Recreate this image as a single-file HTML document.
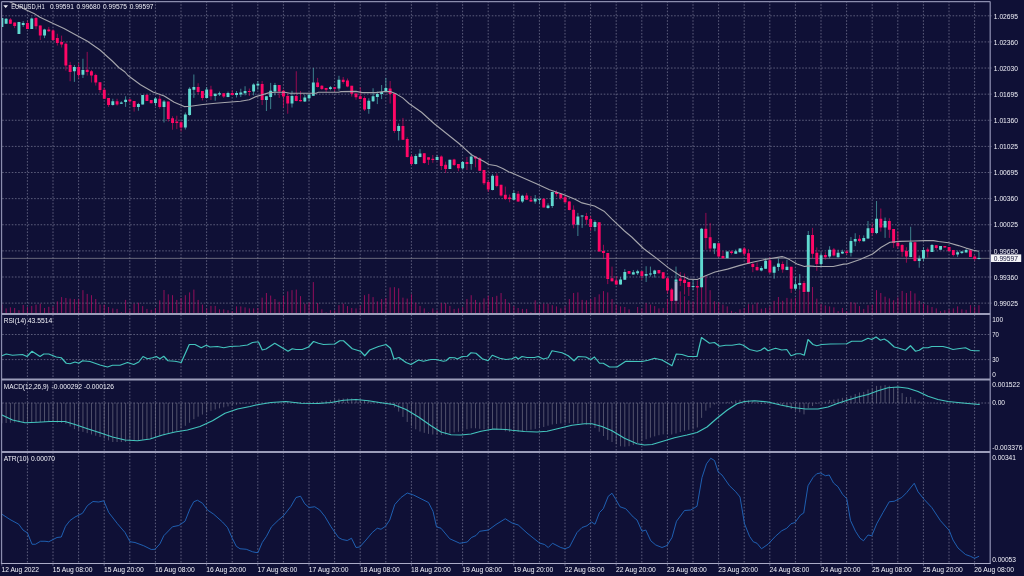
<!DOCTYPE html>
<html><head><meta charset="utf-8"><title>EURUSD,H1</title>
<style>html,body{margin:0;padding:0;background:#0f1036;overflow:hidden}svg{display:block}</style></head>
<body>
<svg width="1024" height="576" viewBox="0 0 1024 576">
<rect width="1024" height="576" fill="#0f1036"/>
<path d="M27.40 1.55V563.45M53.00 1.55V563.45M78.60 1.55V563.45M104.20 1.55V563.45M129.80 1.55V563.45M155.40 1.55V563.45M181.00 1.55V563.45M206.60 1.55V563.45M232.20 1.55V563.45M257.80 1.55V563.45M283.40 1.55V563.45M309.00 1.55V563.45M334.60 1.55V563.45M360.20 1.55V563.45M385.80 1.55V563.45M411.40 1.55V563.45M437.00 1.55V563.45M462.60 1.55V563.45M488.20 1.55V563.45M513.80 1.55V563.45M539.40 1.55V563.45M565.00 1.55V563.45M590.60 1.55V563.45M616.20 1.55V563.45M641.80 1.55V563.45M667.40 1.55V563.45M693.00 1.55V563.45M718.60 1.55V563.45M744.20 1.55V563.45M769.80 1.55V563.45M795.40 1.55V563.45M821.00 1.55V563.45M846.60 1.55V563.45M872.20 1.55V563.45M897.80 1.55V563.45M923.40 1.55V563.45M949.00 1.55V563.45M974.60 1.55V563.45" stroke="#8587a0" stroke-width="0.65" stroke-dasharray="1.6 1.6" stroke-dashoffset="0.55" fill="none"/>
<path d="M1.55 15.80H990.2M1.55 41.92H990.2M1.55 68.04H990.2M1.55 94.16H990.2M1.55 120.28H990.2M1.55 146.40H990.2M1.55 172.52H990.2M1.55 198.64H990.2M1.55 224.76H990.2M1.55 250.88H990.2M1.55 277.00H990.2M1.55 303.12H990.2M1.55 334.50H990.2M1.55 359.60H990.2M1.55 403.00H990.2" stroke="#8587a0" stroke-width="0.65" stroke-dasharray="1.6 1.6" stroke-dashoffset="2.6" fill="none"/>
<clipPath id="mc"><rect x="1.55" y="1.55" width="988.6500000000001" height="312.5"/></clipPath>
<path d="M1.87 304.60V313.4M6.14 308.40V313.4M10.40 307.40V313.4M14.67 308.00V313.4M18.94 310.20V313.4M23.20 305.00V313.4M27.47 307.00V313.4M31.74 305.90V313.4M36.00 304.60V313.4M40.27 303.65V313.4M44.54 308.00V313.4M48.80 306.80V313.4M53.07 306.40V313.4M57.34 301.40V313.4M61.60 297.10V313.4M65.87 298.00V313.4M70.14 298.60V313.4M74.40 299.00V313.4M78.67 299.00V313.4M82.94 290.15V313.4M87.20 293.90V313.4M91.47 295.20V313.4M95.74 299.00V313.4M100.00 304.60V313.4M104.27 304.60V313.4M108.54 307.00V313.4M112.80 308.40V313.4M117.07 308.90V313.4M121.34 312.10V313.4M125.60 299.90V313.4M129.87 309.30V313.4M134.14 303.65V313.4M138.40 302.70V313.4M142.67 306.10V313.4M146.94 308.90V313.4M151.20 309.80V313.4M155.47 308.00V313.4M159.74 300.30V313.4M164.00 290.00V313.4M168.27 294.30V313.4M172.54 295.20V313.4M176.80 299.90V313.4M181.07 298.00V313.4M185.34 295.20V313.4M189.60 292.40V313.4M193.87 289.60V313.4M198.14 299.90V313.4M202.40 304.60V313.4M206.67 308.40V313.4M210.94 305.90V313.4M215.21 305.90V313.4M219.47 309.30V313.4M223.74 309.30V313.4M228.01 310.20V313.4M232.27 311.15V313.4M236.54 306.40V313.4M240.81 306.40V313.4M245.07 307.40V313.4M249.34 308.40V313.4M253.61 308.40V313.4M257.87 308.00V313.4M262.14 297.65V313.4M266.41 293.00V313.4M270.67 295.60V313.4M274.94 299.00V313.4M279.21 301.80V313.4M283.47 295.80V313.4M287.74 291.40V313.4M292.01 290.15V313.4M296.27 289.60V313.4M300.54 296.15V313.4M304.81 303.65V313.4M309.07 302.40V313.4M313.34 282.10V313.4M317.61 303.10V313.4M321.87 309.30V313.4M326.14 312.40V313.4M330.41 310.20V313.4M334.67 310.20V313.4M338.94 305.15V313.4M343.21 303.65V313.4M347.47 306.10V313.4M351.74 308.00V313.4M356.01 308.40V313.4M360.27 305.50V313.4M364.54 295.20V313.4M368.81 293.90V313.4M373.07 297.10V313.4M377.34 301.40V313.4M381.61 299.00V313.4M385.87 298.00V313.4M390.14 287.40V313.4M394.41 287.15V313.4M398.67 288.30V313.4M402.94 297.65V313.4M407.21 298.60V313.4M411.47 294.30V313.4M415.74 302.70V313.4M420.01 305.90V313.4M424.27 308.40V313.4M428.54 312.40V313.4M432.81 308.40V313.4M437.07 310.20V313.4M441.34 303.10V313.4M445.61 303.10V313.4M449.87 305.90V313.4M454.14 308.90V313.4M458.41 308.40V313.4M462.67 307.00V313.4M466.94 299.00V313.4M471.21 295.20V313.4M475.47 299.90V313.4M479.74 302.70V313.4M484.01 298.40V313.4M488.27 295.80V313.4M492.54 297.10V313.4M496.81 295.80V313.4M501.07 293.00V313.4M505.34 299.00V313.4M509.61 303.10V313.4M513.87 306.10V313.4M518.14 308.00V313.4M522.41 308.90V313.4M526.67 308.90V313.4M530.94 312.10V313.4M535.21 300.30V313.4M539.47 304.60V313.4M543.74 303.65V313.4M548.01 303.65V313.4M552.27 305.15V313.4M556.54 306.40V313.4M560.81 308.40V313.4M565.07 306.40V313.4M569.34 299.00V313.4M573.61 293.00V313.4M577.87 292.40V313.4M582.14 299.90V313.4M586.41 300.30V313.4M590.67 299.00V313.4M594.94 297.10V313.4M599.21 294.30V313.4M603.47 291.10V313.4M607.74 292.40V313.4M612.01 299.00V313.4M616.27 304.60V313.4M620.54 306.40V313.4M624.81 307.00V313.4M629.07 309.30V313.4M633.34 313.00V313.4M637.61 307.00V313.4M641.88 308.40V313.4M646.14 303.10V313.4M650.41 304.60V313.4M654.68 306.10V313.4M658.94 308.40V313.4M663.21 308.00V313.4M667.48 299.00V313.4M671.74 298.40V313.4M676.01 293.40V313.4M680.28 291.40V313.4M684.54 296.15V313.4M688.81 300.40V313.4M693.08 301.40V313.4M697.34 296.15V313.4M701.61 280.40V313.4M705.88 275.90V313.4M710.14 290.15V313.4M714.41 301.20V313.4M718.68 302.40V313.4M722.94 304.60V313.4M727.21 306.40V313.4M731.48 310.80V313.4M735.74 312.10V313.4M740.01 309.30V313.4M744.28 308.00V313.4M748.54 304.20V313.4M752.81 304.60V313.4M757.08 302.70V313.4M761.34 308.70V313.4M765.61 308.00V313.4M769.88 306.40V313.4M774.14 300.80V313.4M778.41 297.00V313.4M782.68 300.80V313.4M786.94 297.90V313.4M791.21 298.65V313.4M795.48 297.65V313.4M799.74 290.15V313.4M804.01 292.40V313.4M808.28 279.40V313.4M812.54 287.00V313.4M816.81 298.65V313.4M821.08 303.90V313.4M825.34 305.40V313.4M829.61 306.40V313.4M833.88 307.40V313.4M838.14 311.15V313.4M842.41 308.00V313.4M846.68 311.15V313.4M850.94 302.15V313.4M855.21 302.70V313.4M859.48 306.10V313.4M863.74 308.90V313.4M868.01 305.15V313.4M872.28 304.60V313.4M876.54 290.15V313.4M880.81 293.00V313.4M885.08 296.70V313.4M889.34 298.40V313.4M893.61 300.30V313.4M897.88 297.40V313.4M902.14 290.90V313.4M906.41 293.00V313.4M910.68 290.90V313.4M914.94 293.40V313.4M919.21 300.80V313.4M923.48 303.65V313.4M927.74 305.15V313.4M932.01 307.00V313.4M936.28 308.40V313.4M940.54 311.15V313.4M944.81 310.20V313.4M949.08 309.30V313.4M953.34 308.40V313.4M957.61 306.40V313.4M961.88 309.30V313.4M966.14 309.80V313.4M970.41 305.15V313.4M974.68 307.00V313.4M978.94 305.15V313.4" stroke="#aa0e62" stroke-width="0.85" fill="none"/>
<path d="M1.55 258.35H990.2" stroke="#8e8e98" stroke-width="0.7"/>
<g clip-path="url(#mc)">
<path d="M1.87 18.10V26.90M6.14 18.00V24.00M18.94 21.90V34.00M23.20 21.00V26.90M31.74 17.50V29.00M44.54 28.75V38.10M74.40 65.00V81.90M82.94 58.75V78.00M112.80 98.75V105.60M121.34 101.25V104.00M125.60 96.25V106.90M138.40 102.90V110.75M142.67 95.00V104.50M155.47 97.25V106.00M164.00 100.00V122.50M185.34 112.50V129.50M189.60 87.25V115.75M193.87 74.50V97.90M206.67 87.00V98.25M215.21 93.50V100.75M219.47 91.60V96.00M228.01 91.60V97.25M236.54 91.00V97.50M240.81 88.75V97.00M245.07 86.25V95.40M253.61 83.25V95.40M257.87 81.00V89.75M266.41 96.25V111.00M270.67 82.90V109.10M274.94 82.90V95.40M292.01 90.75V107.50M304.81 94.50V102.00M309.07 93.50V101.00M313.34 67.90V96.00M330.41 86.00V90.40M338.94 75.75V90.75M368.81 98.25V113.75M373.07 88.25V102.00M377.34 91.60V104.10M381.61 85.00V99.10M385.87 77.90V92.25M398.67 123.50V140.40M415.74 154.10V164.50M420.01 149.10V157.25M437.07 155.00V160.40M449.87 159.75V169.10M462.67 161.00V169.75M471.21 153.50V169.75M492.54 174.10V190.40M513.87 190.40V200.00M522.41 194.75V202.90M535.21 195.00V203.75M539.47 198.75V204.10M548.01 203.25V208.75M552.27 191.60V207.90M577.87 212.90V236.00M582.14 215.40V227.90M594.94 220.40V231.25M620.54 277.00V284.75M624.81 269.10V280.00M633.34 270.00V274.50M637.61 269.75V275.00M646.14 266.25V282.00M650.41 266.60V276.60M654.68 269.75V277.50M676.01 266.60V281.50M693.08 279.75V290.00M701.61 227.90V287.25M714.41 243.25V254.10M727.21 251.60V258.25M735.74 249.50V253.75M740.01 248.25V252.25M761.34 266.00V271.40M765.61 258.40V269.00M774.14 265.50V278.75M778.41 258.60V270.90M786.94 259.70V270.25M795.48 276.75V290.50M799.74 274.00V289.60M808.28 231.00V291.75M821.08 252.20V267.10M829.61 246.25V258.30M838.14 249.70V257.50M842.41 249.70V254.00M850.94 237.00V256.50M855.21 233.25V246.10M863.74 235.40V241.50M868.01 221.00V239.10M876.54 201.00V234.10M885.08 217.50V237.90M910.68 226.75V257.25M919.21 255.50V267.75M923.48 247.10V261.10M932.01 244.00V251.90M940.54 246.00V249.75M957.61 250.60V256.90M961.88 251.00V254.00M966.14 249.00V252.50M978.94 251.90V259.40" stroke="#60dad1" stroke-width="0.75" stroke-opacity="0.75" fill="none"/>
<path d="M10.40 18.10V23.75M14.67 22.50V28.10M27.47 20.60V29.00M36.00 16.90V29.40M40.27 25.60V40.00M48.80 26.90V31.90M53.07 29.40V40.60M57.34 33.75V45.60M61.60 35.60V47.50M65.87 42.50V70.60M70.14 61.90V81.25M78.67 63.00V78.75M87.20 51.90V75.60M91.47 70.00V82.50M95.74 73.75V85.60M100.00 82.25V92.75M104.27 88.00V98.75M108.54 98.00V106.90M117.07 98.75V105.60M129.87 98.75V102.90M134.14 101.00V111.60M146.94 94.75V101.00M151.20 100.00V103.25M159.74 95.40V108.75M168.27 101.60V121.60M172.54 116.25V129.75M176.80 115.75V129.10M181.07 121.00V131.60M198.14 83.25V94.10M202.40 91.00V100.40M210.94 85.75V100.00M223.74 93.25V97.90M232.27 90.00V95.40M249.34 88.50V96.00M262.14 81.00V105.00M279.21 85.00V97.90M283.47 89.75V107.50M287.74 93.50V113.75M296.27 71.25V101.25M300.54 91.00V101.60M317.61 77.90V87.50M321.87 85.00V90.00M326.14 87.90V92.00M334.67 87.25V91.60M343.21 77.00V83.75M347.47 78.50V87.25M351.74 85.75V96.60M356.01 93.50V99.75M360.27 87.25V99.50M364.54 96.25V111.00M390.14 81.00V103.50M394.41 93.50V132.90M402.94 117.90V140.00M407.21 137.25V157.50M411.47 154.10V165.40M424.27 153.25V163.75M428.54 157.25V165.00M432.81 155.00V162.90M441.34 155.40V170.00M445.61 161.60V172.90M454.14 158.75V166.00M458.41 164.10V171.25M466.94 157.00V170.00M475.47 156.60V167.25M479.74 157.25V170.75M484.01 170.00V185.00M488.27 179.75V192.00M496.81 173.25V187.25M501.07 184.75V196.60M505.34 186.60V200.00M509.61 194.50V202.25M518.14 191.00V202.00M526.67 192.90V200.00M530.94 196.00V202.00M543.74 198.75V207.50M556.54 190.40V196.60M560.81 193.25V199.75M565.07 196.00V202.90M569.34 201.00V210.40M573.61 205.40V228.25M586.41 212.90V224.75M590.67 216.00V231.00M599.21 222.25V251.60M603.47 244.75V259.10M607.74 252.90V284.10M612.01 266.60V281.60M616.27 276.00V285.00M629.07 271.00V273.75M641.88 271.25V279.75M658.94 270.00V274.10M663.21 272.25V278.50M667.48 277.00V293.75M671.74 287.90V301.00M680.28 272.00V286.00M684.54 273.50V294.50M688.81 282.00V296.00M697.34 280.40V296.00M705.88 212.90V249.75M710.14 222.90V251.60M718.68 243.25V257.25M722.94 251.00V258.50M731.48 250.40V254.50M744.28 247.25V256.00M748.54 249.10V263.50M752.81 262.25V272.20M757.08 262.50V270.75M769.88 257.10V273.00M782.68 261.50V272.75M791.21 266.75V293.00M804.01 280.90V292.10M812.54 227.90V258.60M816.81 247.40V270.90M825.34 252.20V259.70M833.88 248.00V256.50M846.68 249.70V254.90M859.48 235.00V242.50M872.28 223.50V235.75M880.81 208.50V231.60M889.34 218.25V237.90M893.61 229.10V247.90M897.88 231.40V248.90M902.14 244.10V256.75M906.41 247.25V262.70M914.94 242.25V261.50M927.74 247.50V257.50M936.28 245.25V249.75M944.81 246.00V247.50M949.08 246.90V252.25M953.34 250.00V256.50M970.41 250.25V256.90M974.68 255.25V260.60" stroke="#ff0766" stroke-width="0.75" stroke-opacity="0.75" fill="none"/>
<path d="M0.42 18.10h2.9V26.90h-2.9zM4.69 18.75h2.9V23.75h-2.9zM17.49 21.90h2.9V34.00h-2.9zM21.75 23.10h2.9V25.00h-2.9zM30.29 18.50h2.9V29.00h-2.9zM43.09 29.40h2.9V35.60h-2.9zM72.95 66.90h2.9V71.25h-2.9zM81.49 70.00h2.9V74.75h-2.9zM111.35 101.25h2.9V105.00h-2.9zM119.89 102.50h2.9V103.75h-2.9zM124.15 99.75h2.9V101.90h-2.9zM136.95 104.10h2.9V107.00h-2.9zM141.22 95.00h2.9V104.50h-2.9zM154.02 98.50h2.9V102.90h-2.9zM162.55 101.60h2.9V107.00h-2.9zM183.89 114.50h2.9V127.50h-2.9zM188.15 88.75h2.9V115.00h-2.9zM192.42 87.00h2.9V89.75h-2.9zM205.22 89.50h2.9V97.90h-2.9zM213.76 93.75h2.9V96.00h-2.9zM218.02 93.25h2.9V94.50h-2.9zM226.56 92.90h2.9V97.00h-2.9zM235.09 92.90h2.9V95.00h-2.9zM239.36 92.50h2.9V94.50h-2.9zM243.62 91.00h2.9V93.25h-2.9zM252.16 84.50h2.9V91.60h-2.9zM256.42 83.75h2.9V85.40h-2.9zM264.96 96.25h2.9V100.00h-2.9zM269.22 90.75h2.9V97.00h-2.9zM273.49 85.00h2.9V91.60h-2.9zM290.56 96.00h2.9V103.50h-2.9zM303.36 97.50h2.9V101.60h-2.9zM307.62 94.75h2.9V98.25h-2.9zM311.89 82.50h2.9V95.75h-2.9zM328.96 87.25h2.9V89.10h-2.9zM337.49 79.75h2.9V88.50h-2.9zM367.36 100.75h2.9V109.10h-2.9zM371.62 96.25h2.9V101.25h-2.9zM375.89 94.10h2.9V97.00h-2.9zM380.16 92.00h2.9V94.10h-2.9zM384.42 87.90h2.9V91.00h-2.9zM397.22 126.00h2.9V131.00h-2.9zM414.29 156.00h2.9V164.10h-2.9zM418.56 153.50h2.9V157.00h-2.9zM435.62 157.00h2.9V160.00h-2.9zM448.42 159.75h2.9V169.10h-2.9zM461.22 162.00h2.9V168.25h-2.9zM469.76 156.60h2.9V164.10h-2.9zM491.09 175.75h2.9V190.00h-2.9zM512.42 192.90h2.9V199.75h-2.9zM520.96 195.75h2.9V201.60h-2.9zM533.76 198.75h2.9V201.60h-2.9zM538.02 198.75h2.9V199.75h-2.9zM546.56 205.40h2.9V207.90h-2.9zM550.82 192.00h2.9V206.00h-2.9zM576.42 216.60h2.9V224.75h-2.9zM580.69 215.40h2.9V216.60h-2.9zM593.49 222.00h2.9V227.00h-2.9zM619.09 279.50h2.9V284.50h-2.9zM623.36 272.00h2.9V279.75h-2.9zM631.89 272.25h2.9V274.50h-2.9zM636.16 271.25h2.9V273.25h-2.9zM644.69 274.10h2.9V275.75h-2.9zM648.96 273.50h2.9V274.50h-2.9zM653.23 270.40h2.9V274.10h-2.9zM674.56 279.50h2.9V281.70h-2.9zM691.63 285.90h2.9V287.00h-2.9zM700.16 228.75h2.9V287.25h-2.9zM712.96 243.25h2.9V248.50h-2.9zM725.76 251.60h2.9V258.25h-2.9zM734.29 251.25h2.9V253.75h-2.9zM738.56 248.40h2.9V252.25h-2.9zM759.89 268.00h2.9V270.40h-2.9zM764.16 260.80h2.9V268.75h-2.9zM772.69 266.75h2.9V272.75h-2.9zM776.96 263.40h2.9V267.10h-2.9zM785.49 266.75h2.9V270.00h-2.9zM794.03 284.25h2.9V288.75h-2.9zM798.29 283.00h2.9V285.00h-2.9zM806.83 235.00h2.9V291.75h-2.9zM819.63 255.30h2.9V264.00h-2.9zM828.16 249.70h2.9V256.50h-2.9zM836.69 252.80h2.9V257.20h-2.9zM840.96 251.70h2.9V253.45h-2.9zM849.49 241.00h2.9V252.80h-2.9zM853.76 239.10h2.9V241.60h-2.9zM862.29 237.90h2.9V241.25h-2.9zM866.56 228.25h2.9V238.50h-2.9zM875.09 218.75h2.9V232.90h-2.9zM883.63 221.00h2.9V227.50h-2.9zM909.23 242.25h2.9V256.90h-2.9zM917.76 258.40h2.9V261.00h-2.9zM922.03 250.10h2.9V258.40h-2.9zM930.56 245.00h2.9V251.90h-2.9zM939.09 246.00h2.9V249.75h-2.9zM956.16 252.25h2.9V254.40h-2.9zM960.43 251.50h2.9V253.10h-2.9zM964.69 250.00h2.9V252.50h-2.9zM977.49 258.05h2.9V259.05h-2.9z" fill="#60dad1"/>
<path d="M8.95 19.40h2.9V23.75h-2.9zM13.22 22.50h2.9V26.00h-2.9zM26.02 23.10h2.9V29.00h-2.9zM34.55 18.10h2.9V26.25h-2.9zM38.82 25.60h2.9V35.60h-2.9zM47.35 29.40h2.9V31.25h-2.9zM51.62 30.60h2.9V40.00h-2.9zM55.89 38.10h2.9V43.10h-2.9zM60.15 41.90h2.9V44.40h-2.9zM64.42 43.75h2.9V65.60h-2.9zM68.69 65.00h2.9V71.90h-2.9zM77.22 66.90h2.9V75.00h-2.9zM85.75 69.75h2.9V71.90h-2.9zM90.02 71.25h2.9V75.60h-2.9zM94.29 75.00h2.9V82.50h-2.9zM98.55 82.25h2.9V90.00h-2.9zM102.82 89.75h2.9V98.75h-2.9zM107.09 98.00h2.9V105.00h-2.9zM115.62 101.25h2.9V104.40h-2.9zM128.42 99.50h2.9V101.25h-2.9zM132.69 101.00h2.9V107.00h-2.9zM145.49 94.75h2.9V101.00h-2.9zM149.75 100.00h2.9V103.25h-2.9zM158.29 98.75h2.9V107.00h-2.9zM166.82 101.60h2.9V119.10h-2.9zM171.09 118.25h2.9V122.90h-2.9zM175.35 121.60h2.9V122.90h-2.9zM179.62 122.25h2.9V127.50h-2.9zM196.69 87.00h2.9V92.00h-2.9zM200.95 91.00h2.9V97.90h-2.9zM209.49 89.50h2.9V96.25h-2.9zM222.29 93.25h2.9V96.60h-2.9zM230.82 92.90h2.9V95.00h-2.9zM247.89 91.00h2.9V92.00h-2.9zM260.69 84.10h2.9V100.00h-2.9zM277.76 85.00h2.9V91.60h-2.9zM282.02 90.75h2.9V96.60h-2.9zM286.29 96.00h2.9V103.50h-2.9zM294.82 96.00h2.9V101.00h-2.9zM299.09 100.00h2.9V101.25h-2.9zM316.16 82.50h2.9V87.00h-2.9zM320.42 85.75h2.9V89.10h-2.9zM324.69 87.90h2.9V89.75h-2.9zM333.22 87.25h2.9V88.75h-2.9zM341.76 79.75h2.9V82.00h-2.9zM346.02 80.40h2.9V86.60h-2.9zM350.29 85.75h2.9V93.75h-2.9zM354.56 93.50h2.9V97.25h-2.9zM358.82 96.25h2.9V99.10h-2.9zM363.09 97.90h2.9V109.50h-2.9zM388.69 88.50h2.9V94.10h-2.9zM392.96 93.50h2.9V131.00h-2.9zM401.49 126.00h2.9V139.75h-2.9zM405.76 139.10h2.9V157.00h-2.9zM410.02 156.60h2.9V164.10h-2.9zM422.82 153.25h2.9V162.90h-2.9zM427.09 157.25h2.9V159.75h-2.9zM431.36 158.75h2.9V160.00h-2.9zM439.89 156.60h2.9V166.00h-2.9zM444.16 164.75h2.9V169.10h-2.9zM452.69 159.50h2.9V165.00h-2.9zM456.96 164.10h2.9V168.25h-2.9zM465.49 162.00h2.9V164.10h-2.9zM474.02 156.60h2.9V158.50h-2.9zM478.29 158.25h2.9V170.75h-2.9zM482.56 170.00h2.9V183.25h-2.9zM486.82 182.00h2.9V189.50h-2.9zM495.36 175.75h2.9V186.00h-2.9zM499.62 184.75h2.9V195.40h-2.9zM503.89 194.75h2.9V199.10h-2.9zM508.16 197.50h2.9V199.10h-2.9zM516.69 193.75h2.9V201.60h-2.9zM525.22 195.40h2.9V199.75h-2.9zM529.49 199.75h2.9V201.60h-2.9zM542.29 198.75h2.9V207.50h-2.9zM555.09 192.00h2.9V194.10h-2.9zM559.36 194.10h2.9V198.25h-2.9zM563.62 197.25h2.9V202.25h-2.9zM567.89 201.60h2.9V210.00h-2.9zM572.16 209.75h2.9V224.50h-2.9zM584.96 216.00h2.9V219.75h-2.9zM589.22 219.10h2.9V227.00h-2.9zM597.76 222.25h2.9V251.60h-2.9zM602.02 251.00h2.9V252.90h-2.9zM606.29 252.90h2.9V279.10h-2.9zM610.56 278.25h2.9V281.25h-2.9zM614.82 280.40h2.9V284.50h-2.9zM627.62 271.00h2.9V273.75h-2.9zM640.42 271.25h2.9V276.00h-2.9zM657.49 270.00h2.9V273.25h-2.9zM661.76 272.25h2.9V278.50h-2.9zM666.03 278.25h2.9V290.50h-2.9zM670.29 289.60h2.9V301.00h-2.9zM678.83 278.50h2.9V281.00h-2.9zM683.09 279.75h2.9V282.90h-2.9zM687.36 282.00h2.9V287.00h-2.9zM695.89 285.90h2.9V287.60h-2.9zM704.43 228.75h2.9V237.90h-2.9zM708.69 237.25h2.9V248.50h-2.9zM717.23 243.25h2.9V256.60h-2.9zM721.49 256.00h2.9V258.25h-2.9zM730.03 251.40h2.9V253.00h-2.9zM742.83 248.50h2.9V253.75h-2.9zM747.09 253.25h2.9V263.50h-2.9zM751.36 264.00h2.9V267.00h-2.9zM755.63 266.90h2.9V270.30h-2.9zM768.43 260.30h2.9V272.50h-2.9zM781.23 264.00h2.9V269.60h-2.9zM789.76 266.75h2.9V288.75h-2.9zM802.56 283.00h2.9V292.10h-2.9zM811.09 235.00h2.9V253.75h-2.9zM815.36 252.80h2.9V264.00h-2.9zM823.89 255.10h2.9V257.20h-2.9zM832.43 249.40h2.9V255.60h-2.9zM845.23 251.50h2.9V253.10h-2.9zM858.03 238.75h2.9V241.00h-2.9zM870.83 227.90h2.9V232.90h-2.9zM879.36 218.75h2.9V227.50h-2.9zM887.89 221.00h2.9V229.75h-2.9zM892.16 229.10h2.9V242.90h-2.9zM896.43 242.80h2.9V246.25h-2.9zM900.69 245.10h2.9V251.75h-2.9zM904.96 251.10h2.9V256.50h-2.9zM913.49 242.25h2.9V261.00h-2.9zM926.29 249.40h2.9V251.50h-2.9zM934.83 245.25h2.9V248.10h-2.9zM943.36 246.00h2.9V247.50h-2.9zM947.63 246.90h2.9V251.00h-2.9zM951.89 250.00h2.9V255.00h-2.9zM968.96 250.25h2.9V256.90h-2.9zM973.23 256.50h2.9V259.00h-2.9z" fill="#ff0766"/>
<path d="M674.56 281.70h2.9V300.75h-2.9z" fill="#aab6d0"/>
</g>
<path d="M1.60 -2.30L8.75 1.25L18.75 6.25L26.90 10.30L35.00 14.10L40.00 17.20L50.00 21.90L64.00 28.40L75.00 34.40L87.50 41.25L100.00 50.00L112.50 61.25L118.75 67.50L125.00 72.00L128.00 75.50L140.50 84.75L153.00 92.00L164.25 96.00L174.25 102.25L184.25 106.60L190.50 106.25L203.00 104.50L215.50 103.25L228.00 102.25L240.50 101.25L249.25 99.75L256.00 96.60L262.25 94.75L268.50 92.90L274.75 92.25L284.75 92.25L289.75 93.25L316.00 93.25L318.50 92.25L338.50 92.25L341.00 91.60L356.00 91.40L362.25 92.60L376.00 92.60L384.00 91.60L390.25 91.60L396.50 94.10L402.75 97.90L409.00 103.50L421.50 112.25L434.00 123.50L446.50 133.50L459.00 143.50L465.25 149.10L471.50 154.75L477.75 158.25L484.00 161.60L489.00 164.50L496.50 165.75L502.75 168.50L509.00 172.00L512.00 172.90L524.50 178.50L537.00 184.10L549.50 189.75L562.00 194.10L574.50 199.10L582.00 202.90L594.50 206.00L604.50 211.60L612.00 219.10L624.50 231.00L632.00 237.25L643.50 248.50L656.00 257.90L668.50 267.90L681.00 276.25L683.50 276.60L688.50 279.10L697.25 279.50L705.00 276.00L715.00 272.00L727.50 269.10L740.00 265.40L752.50 262.25L765.00 259.50L782.00 256.60L784.50 257.25L789.50 259.60L797.00 264.00L804.50 266.50L808.25 265.90L814.50 266.40L833.25 266.50L843.75 264.10L847.00 264.00L860.00 259.50L872.50 254.00L881.25 247.25L890.00 242.30L899.75 241.40L914.00 241.00L925.00 240.60L933.50 240.60L938.50 241.50L948.50 242.75L958.50 245.60L966.00 248.10L973.50 250.25L978.50 251.25" stroke="#a5a5ac" stroke-width="1.1" fill="none" stroke-linejoin="round" stroke-linecap="round" clip-path="url(#mc)"/>
<path d="M2.00 355.75L6.25 354.00L12.50 355.25L22.50 354.50L27.00 356.50L32.00 351.25L40.00 356.50L43.75 354.00L48.75 354.00L56.25 357.00L61.25 357.75L66.25 363.25L70.00 363.75L75.00 362.00L78.75 363.25L82.50 360.75L90.00 361.50L100.00 365.00L107.50 367.00L112.50 365.25L120.00 365.25L127.50 362.50L133.75 364.50L138.75 362.00L143.00 356.50L147.50 358.75L152.50 357.75L156.25 356.50L160.00 358.75L163.75 356.25L168.00 360.75L175.00 361.25L181.25 362.50L189.25 344.50L195.00 344.50L201.25 347.75L206.25 345.25L210.00 347.00L217.50 346.50L223.75 347.75L230.00 346.50L240.00 346.00L247.50 345.00L252.50 342.50L256.00 342.00L258.50 342.00L262.25 350.00L266.00 349.00L274.75 343.25L281.00 347.00L288.00 351.25L292.25 348.75L296.00 349.50L302.25 349.50L308.50 347.00L313.50 341.50L318.50 343.25L323.50 344.50L334.75 344.00L339.75 340.75L343.50 340.75L352.25 348.75L360.50 351.25L364.75 355.75L369.75 350.00L378.50 346.50L386.00 344.50L390.50 348.25L394.00 359.00L399.00 357.50L406.00 362.50L411.00 364.50L418.50 360.00L423.50 361.25L431.00 359.50L436.00 359.50L443.50 361.25L446.00 360.75L449.75 357.50L454.75 357.75L457.25 359.00L462.25 356.50L467.25 356.25L471.00 352.75L476.00 353.25L482.25 358.75L488.00 360.75L492.25 355.25L499.75 358.25L506.00 359.50L512.00 358.75L515.75 357.00L518.25 359.00L522.00 356.50L527.00 357.50L534.50 357.50L538.25 356.50L543.25 359.00L548.25 357.75L552.00 350.75L562.00 352.75L568.25 355.75L574.00 360.75L578.25 356.50L585.75 357.00L590.75 359.50L594.50 357.00L599.50 363.25L603.25 363.25L609.50 367.00L617.00 367.00L625.75 361.25L642.00 361.50L648.25 360.25L654.50 358.25L662.00 360.00L672.00 365.75L676.25 354.00L682.00 354.50L688.25 356.50L697.00 356.50L701.50 337.50L709.50 343.25L714.50 342.50L719.50 346.25L725.75 345.25L732.00 345.25L739.50 344.00L743.25 345.25L749.50 349.50L757.00 351.25L760.75 350.25L764.50 347.75L768.00 350.75L775.50 348.25L781.75 350.00L786.75 349.50L791.00 355.75L796.75 353.75L800.50 353.75L804.25 355.25L808.00 339.50L813.00 344.50L816.75 345.75L821.75 344.50L830.50 344.00L846.75 343.75L851.75 341.25L861.75 341.25L868.00 338.25L871.75 339.50L876.00 337.00L880.50 340.25L884.25 339.00L888.00 341.25L894.25 347.00L899.25 348.25L905.50 350.25L910.50 345.75L915.50 351.25L919.25 350.25L923.00 347.75L928.00 347.75L931.75 346.50L943.00 346.50L948.00 347.75L953.00 349.50L958.00 348.75L965.50 347.75L970.50 350.25L974.25 350.75L979.25 350.75" stroke="#43c4bd" stroke-width="1.2" fill="none" stroke-linejoin="round" stroke-linecap="round" />
<path d="M1.87 403.0V423.25M6.14 403.0V423.03M10.40 403.0V422.79M14.67 403.0V422.56M18.94 403.0V422.33M23.20 403.0V422.10M27.47 403.0V422.00M31.74 403.0V422.00M36.00 403.0V422.00M40.27 403.0V422.00M44.54 403.0V422.00M48.80 403.0V422.00M53.07 403.0V422.26M57.34 403.0V422.61M61.60 403.0V422.97M65.87 403.0V423.79M70.14 403.0V426.46M74.40 403.0V429.13M78.67 403.0V430.60M82.94 403.0V431.88M87.20 403.0V433.16M91.47 403.0V434.44M95.74 403.0V435.72M100.00 403.0V437.00M104.27 403.0V438.71M108.54 403.0V440.42M112.80 403.0V442.00M117.07 403.0V442.00M121.34 403.0V442.00M125.60 403.0V441.94M129.87 403.0V441.51M134.14 403.0V441.09M138.40 403.0V440.57M142.67 403.0V439.72M146.94 403.0V438.86M151.20 403.0V438.01M155.47 403.0V437.16M159.74 403.0V436.30M164.00 403.0V435.30M168.27 403.0V434.02M172.54 403.0V432.74M176.80 403.0V430.92M181.07 403.0V428.36M185.34 403.0V425.80M189.60 403.0V422.75M193.87 403.0V419.19M198.14 403.0V416.68M202.40 403.0V414.55M206.67 403.0V412.41M210.94 403.0V410.85M215.21 403.0V409.45M219.47 403.0V408.38M223.74 403.0V407.32M228.01 403.0V406.40M232.27 403.0V405.55M236.54 403.0V404.69M240.81 403.0V404.10M245.07 403.0V403.59M266.41 403.0V402.69M270.67 403.0V402.57M274.94 403.0V402.44M279.21 403.0V402.32M283.47 403.0V402.19M287.74 403.0V402.07M292.01 403.0V402.05M296.27 403.0V402.16M300.54 403.0V402.26M304.81 403.0V402.37M309.07 403.0V402.48M313.34 403.0V402.17M317.61 403.0V401.74M321.87 403.0V401.31M326.14 403.0V400.80M330.41 403.0V400.06M334.67 403.0V399.33M338.94 403.0V398.71M343.21 403.0V398.53M347.47 403.0V398.36M351.74 403.0V398.43M356.01 403.0V398.88M360.27 403.0V399.32M364.54 403.0V400.01M368.81 403.0V400.86M373.07 403.0V401.57M377.34 403.0V401.83M381.61 403.0V402.27M390.14 403.0V405.17M394.41 403.0V407.41M398.67 403.0V411.59M402.94 403.0V416.92M407.21 403.0V421.96M411.47 403.0V426.10M415.74 403.0V429.30M420.01 403.0V431.50M424.27 403.0V432.82M428.54 403.0V433.88M432.81 403.0V434.50M437.07 403.0V434.61M441.34 403.0V434.97M445.61 403.0V434.54M449.87 403.0V433.53M454.14 403.0V432.46M458.41 403.0V431.76M462.67 403.0V430.83M466.94 403.0V429.26M471.21 403.0V428.25M475.47 403.0V428.25M479.74 403.0V428.81M484.01 403.0V429.30M488.27 403.0V429.27M492.54 403.0V429.15M496.81 403.0V429.58M501.07 403.0V430.02M505.34 403.0V431.30M509.61 403.0V431.86M513.87 403.0V431.91M518.14 403.0V431.69M522.41 403.0V431.42M526.67 403.0V430.57M530.94 403.0V429.71M535.21 403.0V428.86M539.47 403.0V428.01M543.74 403.0V426.98M548.01 403.0V425.70M552.27 403.0V424.47M556.54 403.0V423.93M560.81 403.0V423.40M565.07 403.0V423.25M569.34 403.0V423.25M573.61 403.0V423.33M577.87 403.0V423.54M582.14 403.0V423.78M586.41 403.0V424.63M590.67 403.0V425.48M594.94 403.0V427.96M599.21 403.0V431.71M603.47 403.0V435.97M607.74 403.0V439.87M612.01 403.0V442.00M616.27 403.0V444.14M620.54 403.0V446.27M624.81 403.0V446.72M629.07 403.0V446.19M633.34 403.0V445.08M637.61 403.0V442.95M641.88 403.0V440.81M646.14 403.0V439.30M650.41 403.0V437.64M654.68 403.0V436.33M658.94 403.0V435.26M663.21 403.0V434.38M667.48 403.0V434.05M671.74 403.0V434.47M676.01 403.0V433.50M680.28 403.0V432.10M684.54 403.0V430.74M688.81 403.0V429.82M693.08 403.0V429.23M697.34 403.0V427.48M701.61 403.0V417.88M705.88 403.0V410.67M710.14 403.0V407.77M714.41 403.0V404.57M722.94 403.0V402.45M727.21 403.0V401.77M731.48 403.0V401.08M735.74 403.0V400.38M740.01 403.0V399.79M744.28 403.0V400.09M748.54 403.0V400.40M752.81 403.0V401.03M757.08 403.0V401.83M761.34 403.0V404.09M765.61 403.0V403.90M769.88 403.0V403.69M774.14 403.0V404.11M778.41 403.0V404.54M782.68 403.0V404.97M786.94 403.0V407.56M791.21 403.0V409.05M795.48 403.0V410.49M799.74 403.0V412.25M804.01 403.0V414.38M808.28 403.0V408.11M812.54 403.0V405.98M816.81 403.0V403.85M825.34 403.0V401.56M829.61 403.0V399.96M833.88 403.0V399.44M838.14 403.0V398.72M842.41 403.0V397.87M846.68 403.0V397.01M850.94 403.0V395.77M855.21 403.0V394.11M859.48 403.0V392.47M863.74 403.0V391.86M868.01 403.0V389.50M872.28 403.0V388.31M876.54 403.0V385.87M880.81 403.0V385.75M885.08 403.0V385.07M889.34 403.0V385.78M893.61 403.0V387.03M897.88 403.0V388.22M902.14 403.0V393.12M906.41 403.0V396.92M910.68 403.0V397.00M914.94 403.0V399.47M919.21 403.0V401.48M923.48 403.0V402.60M936.28 403.0V403.38M940.54 403.0V403.50M944.81 403.0V403.50M949.08 403.0V403.50M953.34 403.0V403.50M957.61 403.0V403.50M961.88 403.0V403.55M966.14 403.0V403.66M970.41 403.0V403.77M974.68 403.0V403.89M978.94 403.0V404.00" stroke="#6e6f84" stroke-width="0.7" fill="none"/>
<path d="M2.00 415.00L12.50 420.00L25.00 422.75L37.50 422.25L50.00 421.50L65.00 421.50L75.00 424.50L87.50 428.75L100.00 432.75L112.50 437.00L125.00 440.00L137.50 440.75L150.00 439.00L162.50 435.00L175.00 432.00L187.50 430.00L200.00 426.50L212.50 420.75L225.00 413.25L237.50 409.00L250.00 406.50L256.00 405.00L271.00 402.50L286.00 401.50L301.00 403.25L318.50 403.50L331.00 402.50L343.50 400.25L356.00 399.50L368.50 400.75L381.00 402.75L393.50 404.50L406.00 409.50L418.50 417.00L431.00 425.75L441.00 432.00L451.00 434.75L461.00 435.00L471.00 434.00L481.00 431.25L493.50 429.00L506.00 429.50L512.00 430.25L524.50 431.50L537.00 432.00L547.00 431.25L559.50 428.25L572.00 425.25L584.50 423.75L592.00 423.75L602.00 426.50L612.00 430.75L624.50 438.25L637.00 443.75L644.50 445.00L652.00 444.50L662.00 441.50L674.50 437.75L687.00 435.00L697.00 432.50L707.00 427.00L717.00 418.25L727.00 410.25L737.00 403.75L744.50 401.50L754.50 400.75L768.00 402.00L780.50 405.00L793.00 407.50L805.50 409.00L818.00 409.00L828.00 407.00L838.00 403.25L848.00 400.00L858.00 397.00L868.00 394.50L878.00 390.75L888.00 387.75L898.00 387.00L908.00 388.25L918.00 391.50L928.00 396.25L938.00 399.50L948.00 401.50L958.00 402.50L968.00 403.50L979.25 404.50" stroke="#43c4bd" stroke-width="1.2" fill="none" stroke-linejoin="round" stroke-linecap="round" />
<path d="M2.00 514.25L10.00 519.50L18.75 524.25L23.00 530.00L27.50 533.00L32.00 544.25L35.50 544.25L40.50 541.25L45.00 541.25L48.75 541.75L57.00 537.50L61.25 537.00L65.50 526.25L70.00 520.50L75.00 517.00L82.50 513.25L87.50 505.50L93.00 501.50L98.75 502.00L103.75 500.75L108.75 512.50L117.50 523.75L125.00 532.50L130.00 541.75L135.00 542.50L143.75 545.75L151.25 549.50L155.00 549.25L160.00 543.75L163.75 535.75L172.50 526.75L178.75 525.50L185.00 521.25L190.00 508.75L193.75 501.75L197.50 500.25L202.50 503.25L207.50 510.00L213.75 514.25L222.50 522.00L227.50 527.50L232.50 538.75L236.25 546.25L240.00 548.75L246.25 549.25L252.50 551.75L256.00 552.50L258.00 552.50L262.25 542.50L266.50 536.25L271.50 526.75L278.50 520.00L283.50 515.75L291.00 506.25L296.00 497.50L300.50 496.25L304.75 503.75L309.00 507.50L314.75 506.75L319.75 510.00L324.75 516.25L331.00 526.75L338.50 537.50L342.25 539.50L347.25 540.50L351.50 538.25L356.00 547.50L359.75 547.00L366.00 540.00L372.25 532.50L377.25 528.25L381.00 529.25L385.50 526.25L389.75 520.00L394.75 504.50L401.00 497.50L407.25 493.00L413.50 495.00L421.00 498.75L428.50 502.50L433.00 511.25L436.50 526.75L441.00 528.25L449.75 538.75L459.75 543.25L467.25 542.00L471.50 537.50L476.00 535.50L479.75 531.25L488.50 530.00L496.00 524.50L505.25 518.75L512.00 523.00L518.25 525.00L527.00 533.00L539.50 543.00L544.50 544.50L548.25 547.50L552.50 543.25L560.75 547.50L565.00 548.75L569.50 547.00L577.00 532.50L582.00 527.50L587.00 525.75L591.50 522.00L595.00 524.25L599.50 512.50L603.25 508.75L608.25 496.25L612.00 493.25L615.75 499.25L620.00 506.75L625.75 508.75L633.25 517.00L637.00 520.00L642.00 531.25L645.75 530.00L650.75 540.75L655.75 545.00L662.00 547.50L667.00 545.50L672.00 537.50L676.50 521.25L684.50 510.50L690.75 510.00L697.00 506.25L702.00 477.50L706.50 463.75L710.75 458.25L714.50 460.50L718.25 472.00L722.00 475.00L729.50 485.75L735.75 491.75L740.00 497.00L744.50 523.75L749.50 536.25L753.25 541.75L757.00 543.25L761.50 548.75L768.00 544.25L775.50 536.25L781.75 530.75L786.75 528.25L791.00 523.75L795.00 522.50L800.50 515.00L803.75 513.00L808.00 485.75L813.00 477.50L816.75 473.75L820.50 473.00L825.50 475.75L829.25 475.00L833.50 483.00L838.00 486.75L842.50 494.25L846.75 498.75L850.50 520.50L855.50 531.25L860.00 538.25L863.50 540.75L868.00 535.00L871.75 535.75L876.75 523.75L883.00 512.50L889.25 501.75L894.25 501.25L901.75 497.50L906.75 492.50L914.25 483.25L918.00 491.75L924.25 499.50L931.75 507.50L940.50 520.75L949.25 530.50L953.00 540.00L958.00 548.00L965.50 554.50L970.50 556.30L974.50 558.30L978.75 556.40" stroke="#2068be" stroke-width="0.9" fill="none" stroke-linejoin="round" stroke-linecap="round" />
<path d="M1.55 1.55H990.2M1.55 1.55V563.45M990.2 1.55V563.45" stroke="#8b8dae" stroke-width="1.25" fill="none"/>
<path d="M0.9500000000000001 563.45H990.8000000000001" stroke="#abacc8" stroke-width="1.15" fill="none"/>
<path d="M1.55 314.05H990.2" stroke="#9c9dba" stroke-width="2.0"/>
<path d="M1.55 379.5H990.2" stroke="#9c9dba" stroke-width="2.0"/>
<path d="M1.55 452.0H990.2" stroke="#9c9dba" stroke-width="2.0"/>
<path d="M990.2 15.80h1.3M990.2 41.92h1.3M990.2 68.04h1.3M990.2 94.16h1.3M990.2 120.28h1.3M990.2 146.40h1.3M990.2 172.52h1.3M990.2 198.64h1.3M990.2 224.76h1.3M990.2 250.88h1.3M990.2 277.00h1.3M990.2 303.12h1.3M1.80 563.45v2.2M53.00 563.45v2.2M104.20 563.45v2.2M155.40 563.45v2.2M206.60 563.45v2.2M257.80 563.45v2.2M309.00 563.45v2.2M360.20 563.45v2.2M411.40 563.45v2.2M462.60 563.45v2.2M513.80 563.45v2.2M565.00 563.45v2.2M616.20 563.45v2.2M667.40 563.45v2.2M718.60 563.45v2.2M769.80 563.45v2.2M821.00 563.45v2.2M872.20 563.45v2.2M923.40 563.45v2.2M974.60 563.45v2.2" stroke="#8b8dae" stroke-width="0.7" fill="none"/>
<filter id="tf" x="0" y="0" width="1024" height="576" filterUnits="userSpaceOnUse" color-interpolation-filters="sRGB"><feColorMatrix type="matrix" values="1 0 0 0 0 0 1 0 0 0 0 0 1 0 0 0 0 0 1 0"/></filter>
<g font-family="Liberation Sans, Arial, sans-serif" font-size="6.6" fill="#f0f0f8" filter="url(#tf)">
<text x="993.8" y="18.5" textLength="24.2" lengthAdjust="spacingAndGlyphs" xml:space="preserve">1.02695</text>
<text x="993.8" y="44.62" textLength="24.2" lengthAdjust="spacingAndGlyphs" xml:space="preserve">1.02360</text>
<text x="993.8" y="70.74" textLength="24.2" lengthAdjust="spacingAndGlyphs" xml:space="preserve">1.02030</text>
<text x="993.8" y="96.86" textLength="24.2" lengthAdjust="spacingAndGlyphs" xml:space="preserve">1.01695</text>
<text x="993.8" y="122.98" textLength="24.2" lengthAdjust="spacingAndGlyphs" xml:space="preserve">1.01360</text>
<text x="993.8" y="149.1" textLength="24.2" lengthAdjust="spacingAndGlyphs" xml:space="preserve">1.01025</text>
<text x="993.8" y="175.22" textLength="24.2" lengthAdjust="spacingAndGlyphs" xml:space="preserve">1.00695</text>
<text x="993.8" y="201.34" textLength="24.2" lengthAdjust="spacingAndGlyphs" xml:space="preserve">1.00360</text>
<text x="993.8" y="227.46" textLength="24.2" lengthAdjust="spacingAndGlyphs" xml:space="preserve">1.00025</text>
<text x="993.8" y="253.58" textLength="24.2" lengthAdjust="spacingAndGlyphs" xml:space="preserve">0.99690</text>
<text x="993.8" y="279.7" textLength="24.2" lengthAdjust="spacingAndGlyphs" xml:space="preserve">0.99360</text>
<text x="993.8" y="305.82" textLength="24.2" lengthAdjust="spacingAndGlyphs" xml:space="preserve">0.99025</text>
<rect x="991.0" y="254.4" width="30.2" height="7.6" fill="#f4f4f8"/>
<text x="993.8" y="260.9" textLength="24.2" lengthAdjust="spacingAndGlyphs" fill="#15163a" xml:space="preserve">0.99597</text>
<text x="992.2" y="321.9" textLength="10.9" lengthAdjust="spacingAndGlyphs" xml:space="preserve">100</text>
<text x="992.2" y="337.2" textLength="6.6" lengthAdjust="spacingAndGlyphs" xml:space="preserve">70</text>
<text x="992.2" y="362.3" textLength="6.6" lengthAdjust="spacingAndGlyphs" xml:space="preserve">30</text>
<text x="992.2" y="377.0" textLength="3.6" lengthAdjust="spacingAndGlyphs" xml:space="preserve">0</text>
<text x="992.2" y="387.2" textLength="27.8" lengthAdjust="spacingAndGlyphs" xml:space="preserve">0.001522</text>
<text x="992.2" y="405.3" textLength="12.8" lengthAdjust="spacingAndGlyphs" xml:space="preserve">0.00</text>
<text x="992.2" y="449.75" textLength="30.3" lengthAdjust="spacingAndGlyphs" xml:space="preserve">-0.003376</text>
<text x="992.2" y="460.0" textLength="23.75" lengthAdjust="spacingAndGlyphs" xml:space="preserve">0.00341</text>
<text x="992.2" y="562.0" textLength="23.75" lengthAdjust="spacingAndGlyphs" xml:space="preserve">0.00053</text>
<path d="M3.3 5.3h4.8l-2.4 2.7z" fill="#f0f0f8"/>
<text x="11.25" y="9.0" textLength="33.4" lengthAdjust="spacingAndGlyphs" xml:space="preserve">EURUSD,H1</text>
<text x="50" y="9.0" textLength="23.8" lengthAdjust="spacingAndGlyphs" xml:space="preserve">0.99591</text>
<text x="76.55" y="9.0" textLength="23.8" lengthAdjust="spacingAndGlyphs" xml:space="preserve">0.99680</text>
<text x="103.1" y="9.0" textLength="23.8" lengthAdjust="spacingAndGlyphs" xml:space="preserve">0.99575</text>
<text x="129.7" y="9.0" textLength="23.8" lengthAdjust="spacingAndGlyphs" xml:space="preserve">0.99597</text>
<text x="3.75" y="323.0" textLength="22.5" lengthAdjust="spacingAndGlyphs" xml:space="preserve">RSI(14)</text>
<text x="27.75" y="323.0" textLength="24.5" lengthAdjust="spacingAndGlyphs" xml:space="preserve">43.5514</text>
<text x="3.75" y="388.6" textLength="45.0" lengthAdjust="spacingAndGlyphs" xml:space="preserve">MACD(12,26,9)</text>
<text x="51.5" y="388.6" textLength="30.4" lengthAdjust="spacingAndGlyphs" xml:space="preserve">-0.000292</text>
<text x="84.0" y="388.6" textLength="30.0" lengthAdjust="spacingAndGlyphs" xml:space="preserve">-0.000126</text>
<text x="3.75" y="461.0" textLength="25.0" lengthAdjust="spacingAndGlyphs" xml:space="preserve">ATR(10)</text>
<text x="31.0" y="461.0" textLength="24.0" lengthAdjust="spacingAndGlyphs" xml:space="preserve">0.00070</text>
<text x="1.5" y="572.2" textLength="37.5" lengthAdjust="spacingAndGlyphs" xml:space="preserve">12 Aug 2022</text>
<text x="52.7" y="572.2" textLength="39.75" lengthAdjust="spacingAndGlyphs" xml:space="preserve">15 Aug 08:00</text>
<text x="103.9" y="572.2" textLength="39.75" lengthAdjust="spacingAndGlyphs" xml:space="preserve">15 Aug 20:00</text>
<text x="155.1" y="572.2" textLength="39.75" lengthAdjust="spacingAndGlyphs" xml:space="preserve">16 Aug 08:00</text>
<text x="206.3" y="572.2" textLength="39.75" lengthAdjust="spacingAndGlyphs" xml:space="preserve">16 Aug 20:00</text>
<text x="257.5" y="572.2" textLength="39.75" lengthAdjust="spacingAndGlyphs" xml:space="preserve">17 Aug 08:00</text>
<text x="308.7" y="572.2" textLength="39.75" lengthAdjust="spacingAndGlyphs" xml:space="preserve">17 Aug 20:00</text>
<text x="359.9" y="572.2" textLength="39.75" lengthAdjust="spacingAndGlyphs" xml:space="preserve">18 Aug 08:00</text>
<text x="411.1" y="572.2" textLength="39.75" lengthAdjust="spacingAndGlyphs" xml:space="preserve">18 Aug 20:00</text>
<text x="462.3" y="572.2" textLength="39.75" lengthAdjust="spacingAndGlyphs" xml:space="preserve">19 Aug 08:00</text>
<text x="513.5" y="572.2" textLength="39.75" lengthAdjust="spacingAndGlyphs" xml:space="preserve">19 Aug 20:00</text>
<text x="564.7" y="572.2" textLength="39.75" lengthAdjust="spacingAndGlyphs" xml:space="preserve">22 Aug 08:00</text>
<text x="615.9" y="572.2" textLength="39.75" lengthAdjust="spacingAndGlyphs" xml:space="preserve">22 Aug 20:00</text>
<text x="667.1" y="572.2" textLength="39.75" lengthAdjust="spacingAndGlyphs" xml:space="preserve">23 Aug 08:00</text>
<text x="718.3" y="572.2" textLength="39.75" lengthAdjust="spacingAndGlyphs" xml:space="preserve">23 Aug 20:00</text>
<text x="769.5" y="572.2" textLength="39.75" lengthAdjust="spacingAndGlyphs" xml:space="preserve">24 Aug 08:00</text>
<text x="820.7" y="572.2" textLength="39.75" lengthAdjust="spacingAndGlyphs" xml:space="preserve">24 Aug 20:00</text>
<text x="871.9" y="572.2" textLength="39.75" lengthAdjust="spacingAndGlyphs" xml:space="preserve">25 Aug 08:00</text>
<text x="923.1" y="572.2" textLength="39.75" lengthAdjust="spacingAndGlyphs" xml:space="preserve">25 Aug 20:00</text>
<text x="974.3" y="572.2" textLength="39.75" lengthAdjust="spacingAndGlyphs" xml:space="preserve">26 Aug 08:00</text>
</g>
</svg>
</body></html>
